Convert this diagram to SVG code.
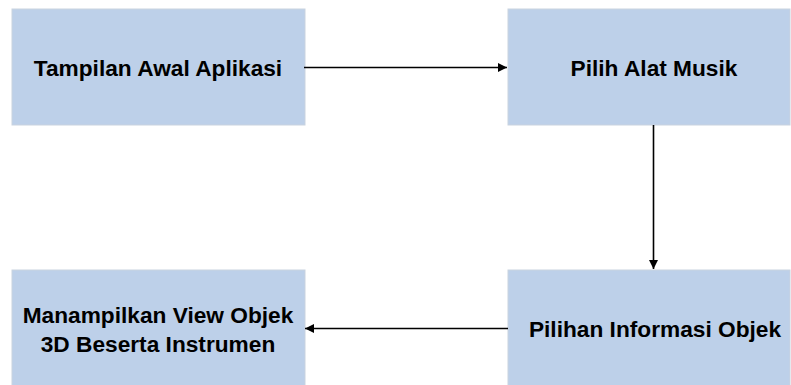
<svg xmlns="http://www.w3.org/2000/svg" width="791" height="385" viewBox="0 0 791 385">
  <style>
    .box { fill: #bdd0e9; stroke: #c9d3df; stroke-width: 1; }
    .label { font-family: "Liberation Sans", Arial, sans-serif; font-weight: bold; font-size: 22.7px; fill: #000; text-anchor: middle; }
    .conn { stroke: #000; stroke-width: 1.6; fill: none; marker-end: url(#arrow); }
  </style>
  <defs>
    <marker id="arrow" viewBox="0 0 10 10" refX="10" refY="5" markerWidth="9" markerHeight="9" markerUnits="userSpaceOnUse" orient="auto">
      <path d="M0,0 L10,5 L0,10 z" fill="#000"/>
    </marker>
  </defs>
  <rect width="791" height="385" fill="#fff"/>

  <g id="node-tampilan">
    <rect class="box" x="12" y="9" width="293" height="116"/>
    <text class="label" x="158" y="76">Tampilan Awal Aplikasi</text>
  </g>

  <g id="node-pilih-alat">
    <rect class="box" x="508" y="9" width="282" height="116"/>
    <text class="label" x="654" y="76">Pilih Alat Musik</text>
  </g>

  <g id="node-pilihan-informasi">
    <rect class="box" x="508" y="270" width="282" height="116"/>
    <text class="label" x="655" y="337">Pilihan Informasi Objek</text>
  </g>

  <g id="node-view-objek">
    <rect class="box" x="12" y="270" width="293" height="116"/>
    <text class="label" x="158" y="323">Manampilkan View Objek</text>
    <text class="label" x="158" y="352">3D Beserta Instrumen</text>
  </g>

  <g id="connectors">
    <line class="conn" x1="304" y1="67.5" x2="507" y2="67.5"/>
    <line class="conn" x1="653.5" y1="125" x2="653.5" y2="269"/>
    <line class="conn" x1="508" y1="328.5" x2="305" y2="328.5"/>
  </g>
</svg>
